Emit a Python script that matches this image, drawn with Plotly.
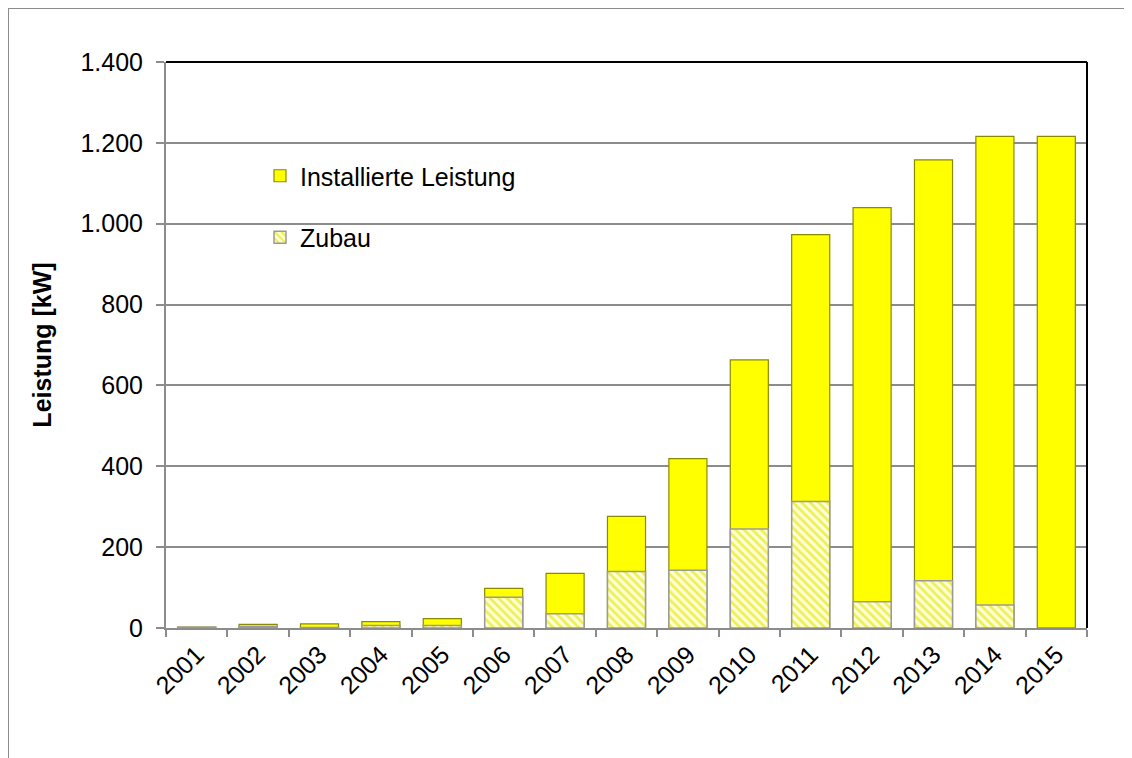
import plotly.graph_objects as go

years = [str(y) for y in range(2001, 2016)]
installiert = [2, 9, 10, 16, 23, 98, 135, 276, 419, 663, 973, 1040, 1158, 1216, 1216]
zubau = [2, 4, 1, 6, 6, 76, 35, 140, 143, 245, 313, 65, 117, 57, 0]
y_ticks = [0, 200, 400, 600, 800, 1000, 1200, 1400]

yellow = "#FFFF00"
grey = "#8C8C8C"
font_name = "Liberation Sans, Arial, sans-serif"

fig = go.Figure()

fig.add_trace(go.Bar(
    name="Installierte Leistung", x=years, y=installiert,
    legendgroup="a",
    marker=dict(color=yellow, line=dict(color="#8A8A00", width=1.2)),
))
fig.add_trace(go.Bar(
    name="Zubau", x=years, y=zubau,
    legendgroup="b",
    marker=dict(
        color="#FFFFD8",
        line=dict(color="#9A9A9A", width=1.5),
        pattern=dict(shape="\\", fgcolor="#EEEE55", bgcolor="#FFFFD8",
                     size=6, solidity=0.45, fillmode="replace"),
    ),
))

# page offset of the figure div (body margin)
off = 8
W, H = 1132, 758
# plot area on the page: 166..1087 x 62..628 px
px0, px1, py0, py1 = 166, 1087, 628, 62


def paper_x(px):
    return (px - px0) / (px1 - px0)


def paper_y(py):
    return (py0 - py) / (py0 - py1)


shapes = [
    # outer chart frame
    dict(type="line", xref="paper", yref="paper", x0=paper_x(8), x1=paper_x(1150),
         y0=paper_y(8), y1=paper_y(8), line=dict(color="#8C8C8C", width=2)),
    dict(type="line", xref="paper", yref="paper", x0=paper_x(8), x1=paper_x(8),
         y0=paper_y(8), y1=paper_y(780), line=dict(color="#8C8C8C", width=2)),
    # black top / right border of plot area
    dict(type="line", xref="paper", yref="paper", x0=0, x1=1, y0=1, y1=1,
         line=dict(color="black", width=2)),
    dict(type="line", xref="paper", yref="paper", x0=1, x1=1, y0=0, y1=1,
         line=dict(color="black", width=2)),
    # white box behind legend hiding the gridline
    dict(type="rect", xref="paper", yref="paper", layer="between",
         x0=paper_x(228), x1=paper_x(578), y0=paper_y(280), y1=paper_y(150),
         fillcolor="white", line=dict(width=0)),
]

fig.update_layout(
    width=W, height=H,
    paper_bgcolor="white", plot_bgcolor="white",
    font=dict(family=font_name, size=25, color="black"),
    margin=dict(l=px0 - off, r=W - (px1 - off), t=py1 - off, b=H - (py0 - off),
                autoexpand=False),
    barmode="overlay", bargap=0.38,
    separators=",.",
    shapes=shapes,
    legend=dict(
        x=paper_x(260), y=paper_y(153), xanchor="left", yanchor="top",
        bgcolor="rgba(0,0,0,0)", font=dict(size=25),
        tracegroupgap=26, traceorder="grouped",
    ),
    xaxis=dict(
        type="category", showline=True, linecolor=grey, linewidth=2,
        ticks="outside", tickson="boundaries", ticklen=7, tickcolor=grey, tickwidth=2,
        tickangle=-45, showgrid=False, tickfont=dict(size=25),
    ),
    yaxis=dict(
        range=[0, 1400], tickvals=y_ticks, separatethousands=True,
        showline=True, linecolor=grey, linewidth=2,
        ticks="outside", ticklen=8, tickcolor=grey, tickwidth=2,
        ticklabelstandoff=8, tickfont=dict(size=25),
        showgrid=True, gridcolor=grey, gridwidth=1.5, zeroline=False,
        title=dict(text="<b>Leistung [kW]</b>", standoff=22, font=dict(size=25)),
    ),
)

fig.write_html("out.html")
